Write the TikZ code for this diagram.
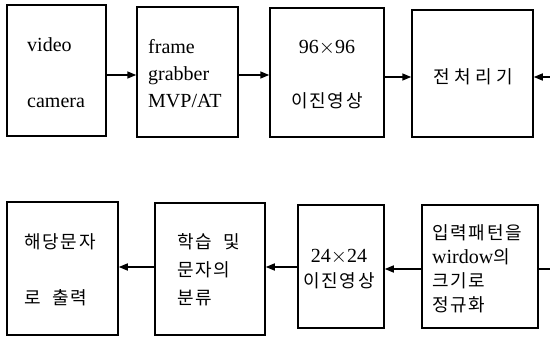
\documentclass[tikz,border=0pt]{standalone}
\usepackage{fontspec}
\setmainfont{Liberation Serif}
\newfontfamily\kr[LetterSpace=10]{Noto Sans CJK KR}
\newfontfamily\krw[LetterSpace=25]{Noto Sans CJK KR}
\usetikzlibrary{arrows.meta}
\begin{document}
\begin{tikzpicture}[x=1pt,y=-1pt,
  box/.style={draw,line width=1.5pt,inner sep=0pt},
  lat/.style={font=\fontsize{20}{22}\selectfont,inner sep=0pt},
  han/.style={font=\kr\fontsize{18}{20}\selectfont,inner sep=0pt},
  conn/.style={line width=1.5pt,-{Triangle[length=9pt,width=7pt]}},
  plain/.style={line width=1.5pt}]
\useasboundingbox (0,0) rectangle (550,340);
% boxes top row
\node[box,minimum width=99pt,minimum height=131pt] (b1) at (56.5,70.5) {};
\node[box,minimum width=101pt,minimum height=130pt] (b2) at (187.5,72) {};
\node[box,minimum width=114pt,minimum height=129pt] (b3) at (327,72.5) {};
\node[box,minimum width=121pt,minimum height=127pt] (b4) at (472.5,73.5) {};
% boxes bottom row
\node[box,minimum width=111pt,minimum height=133pt] (bA) at (62.5,268.5) {};
\node[box,minimum width=110pt,minimum height=132pt] (bB) at (210,269) {};
\node[box,minimum width=86pt,minimum height=123pt] (bC) at (341,266.5) {};
\node[box,minimum width=116pt,minimum height=123pt] (bD) at (480,266.5) {};
% texts
\node[lat,anchor=west] (t1a) at (27,45) {video};
\node[lat,anchor=west] (t1b) at (27,103) {camera};
\node[lat,anchor=west] (t2a) at (148,47) {frame};
\node[lat,anchor=west] (t2b) at (148,76) {grabber};
\node[lat,anchor=west] (t2c) at (148,101) {MVP/AT};
\node[lat] (t3a) at (327,48) {96$\times$96};
\node[han] (t3b) at (327,101) {이진영상};
\node[han,font=\krw\fontsize{18}{20}\selectfont] (t4) at (473,77) {전처리기};
\node[han,anchor=west] (tAa) at (24,242) {해당문자};
\node[han,anchor=west] (tAb) at (24,298) {로 \ 출력};
\node[han,anchor=west] (tBa) at (177,242) {학습 \ 및};
\node[han,anchor=west] (tBb) at (177,270) {문자의};
\node[han,anchor=west] (tBc) at (177,298) {분류};
\node[lat] (tCa) at (339,257) {24$\times$24};
\node[han] (tCb) at (339,281) {이진영상};
\node[han,anchor=west] (tDa) at (432,233) {입력패턴을};
\node[anchor=west,inner sep=0pt] (tDb) at (432,257) {\fontsize{20}{22}\selectfont wirdow\kr\fontsize{18}{20}\selectfont 의};
\node[han,anchor=west] (tDc) at (432,281) {크기로};
\node[han,anchor=west] (tDd) at (432,305) {정규화};
% connectors
\coordinate (eT) at (550,77);
\coordinate (eB) at (550,269);
\draw[conn] (b1.east |- 0,75) -- (b2.west |- 0,75);
\draw[conn] (b2.east |- 0,75) -- (b3.west |- 0,75);
\draw[conn] (b3.east |- 0,77) -- (b4.west |- 0,77);
\draw[conn] (eT) -- (b4.east |- eT);
\draw[conn] (bB.west |- 0,267) -- (bA.east |- 0,267);
\draw[conn] (bC.west |- 0,267) -- (bB.east |- 0,267);
\draw[conn] (bD.west |- 0,269) -- (bC.east |- 0,269);
\draw[plain] (bD.east |- eB) -- (eB);
\end{tikzpicture}
\end{document}
